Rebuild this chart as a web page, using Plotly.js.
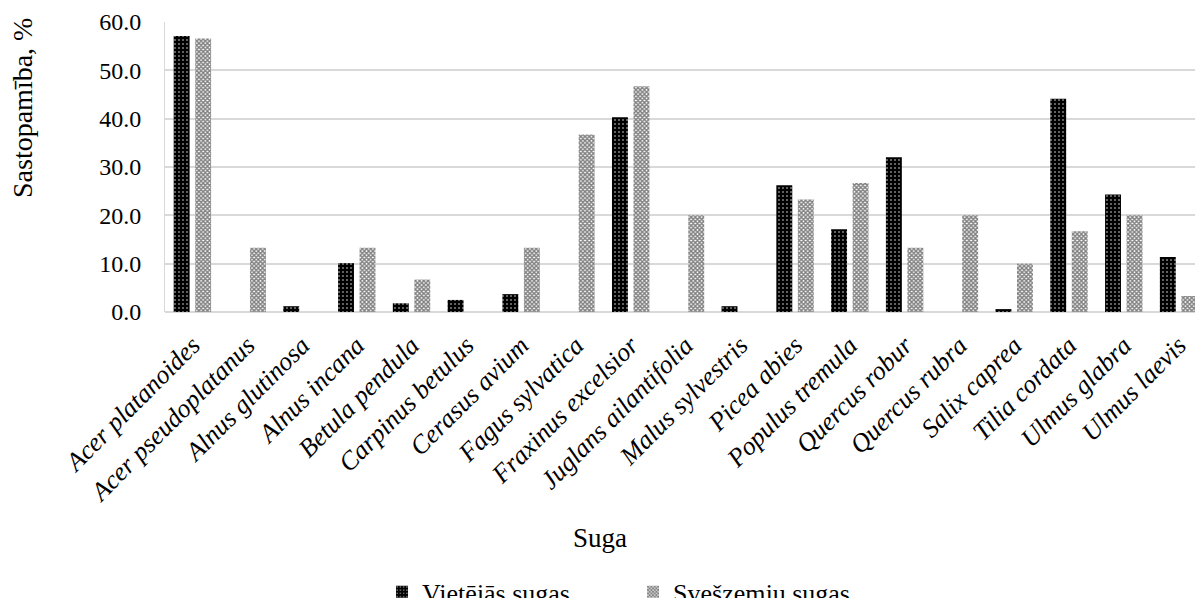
<!DOCTYPE html>
<html>
<head>
<meta charset="utf-8">
<script src="https://cdn.plot.ly/plotly-3.0.1.min.js"></script>
<style>html,body{margin:0;padding:0;background:#fff;}</style>
</head>
<body>
<div id="chart" style="width:1195px;height:598px;"></div>
<script>
const species = ["Acer platanoides","Acer pseudoplatanus","Alnus glutinosa","Alnus incana","Betula pendula","Carpinus betulus","Cerasus avium","Fagus sylvatica","Fraxinus excelsior","Juglans ailantifolia","Malus sylvestris","Picea abies","Populus tremula","Quercus robur","Quercus rubra","Salix caprea","Tilia cordata","Ulmus glabra","Ulmus laevis"];
const seriesNames = ["Vietējās sugas","Svešzemju sugas"];
const nativeValues = [57.1, null, 1.2, 10.1, 1.8, 2.5, 3.7, null, 40.3, null, 1.2, 26.2, 17.1, 32.0, null, 0.6, 44.1, 24.3, 11.4];
const foreignValues = [56.6, 13.3, null, 13.3, 6.7, null, 13.3, 36.7, 46.7, 20.0, null, 23.3, 26.7, 13.3, 20.0, 10.0, 16.7, 20.0, 3.3];
const yTicks = [0, 10, 20, 30, 40, 50, 60];
const yTickLabels = ["0.0","10.0","20.0","30.0","40.0","50.0","60.0"];

const FF = "Times New Roman";
const traces = [
  {type:"bar", name:seriesNames[0], x:species, y:nativeValues,
   marker:{color:"#000", line:{width:0},
     pattern:{shape:".", fgcolor:"#fff", bgcolor:"#000", size:4, solidity:0.2, fillmode:"overlay"}}},
  {type:"bar", name:seriesNames[1], x:species, y:foreignValues,
   marker:{color:"#fff", line:{width:0},
     pattern:{shape:"x", fgcolor:"#000", bgcolor:"#fff", size:3, solidity:0.7, fillmode:"overlay"}}}
];
const layout = {
  width:1195, height:598,
  margin:{l:165, r:0, t:22, b:286, autoexpand:false},
  paper_bgcolor:"#fff", plot_bgcolor:"#fff",
  font:{family:FF, color:"#000", size:24},
  barmode:"group", bargap:0.215, bargroupgap:0.26,
  xaxis:{type:"category", range:[-0.5, 18.3], tickangle:-45, showgrid:false,
    tickfont:{family:FF, size:26, color:"#000", style:"italic"}, ticks:"", showline:false,
    ticklabelstandoff:12, zeroline:false, automargin:false},
  yaxis:{range:[0,60], tickvals:yTicks, ticktext:yTickLabels, showgrid:true,
    gridcolor:"#d9d9d9", gridwidth:1.5, zeroline:true, zerolinecolor:"#d9d9d9", zerolinewidth:1.5,
    showline:true, linecolor:"#d9d9d9", linewidth:1, ticks:"", ticklen:0, ticklabelstandoff:18,
    tickfont:{family:FF, size:24, color:"#000"}, automargin:false},
  showlegend:true,
  legend:{orientation:"h", x:0.2107, y:-0.884, xanchor:"left", yanchor:"top",
    font:{family:FF, size:26, color:"#000"}, entrywidth:206, entrywidthmode:"pixels", itemwidth:30},
  annotations:[
    {text:"Suga", xref:"paper", yref:"paper", x:(600-165)/1030, y:(312-538)/290,
     xanchor:"center", yanchor:"middle", showarrow:false, font:{family:FF, size:27, color:"#000"}},
    {text:"Sastopamība, %", xref:"paper", yref:"paper", x:(22-165)/1030, y:(312-108)/290,
     xanchor:"center", yanchor:"middle", textangle:-90, showarrow:false, font:{family:FF, size:28, color:"#000"}}
  ]
};
Plotly.newPlot("chart", traces, layout, {displayModeBar:false});
</script>
</body>
</html>
